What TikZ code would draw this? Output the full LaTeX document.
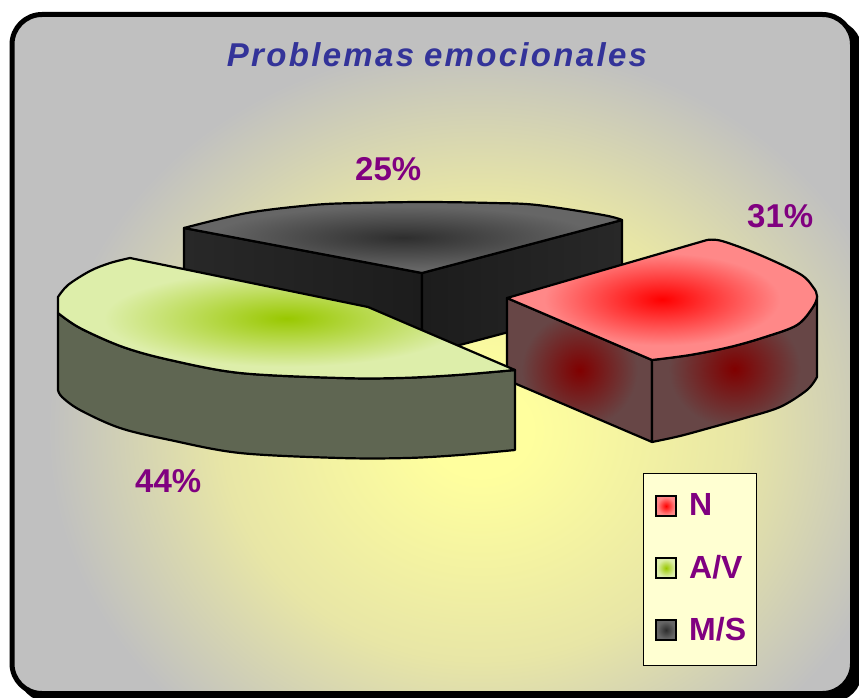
\documentclass[tikz,border=0pt]{standalone}
\usepackage{fontspec}
\setmainfont{Liberation Sans}
\newfontfamily\titlefont[LetterSpace=7]{Liberation Sans}
\definecolor{titleblue}{HTML}{333399}
\definecolor{pctpurple}{HTML}{800080}
\definecolor{bgyellow}{HTML}{FFFF9E}
\definecolor{bgmid}{HTML}{E8E6A6}
\definecolor{bggray}{HTML}{C0C0C0}
\definecolor{gtopin}{HTML}{99C800}
\definecolor{gtopout}{HTML}{DDEEAA}
\definecolor{gsideout}{HTML}{5F6652}
\definecolor{gsidein}{HTML}{4A5E1F}
\definecolor{rtopin}{HTML}{FF0000}
\definecolor{rtopout}{HTML}{FF8888}
\definecolor{rsidein}{HTML}{800000}
\definecolor{rsideout}{HTML}{674646}
\definecolor{dtopin}{HTML}{2E2E2E}
\definecolor{dtopout}{HTML}{666666}
\definecolor{dsidea}{HTML}{282828}
\definecolor{dsideb}{HTML}{1C1C1C}
\definecolor{legfill}{HTML}{FFFFD2}
\pgfdeclareradialshading{bgglow}{\pgfpoint{0bp}{0bp}}{color(0bp)=(bgyellow); color(2.7bp)=(bgyellow); color(13.7bp)=(bgmid); color(23bp)=(bggray); color(50bp)=(bggray)}
\pgfdeclareradialshading{greentop}{\pgfpoint{0bp}{0bp}}{color(0bp)=(gtopin); color(20bp)=(gtopout); color(50bp)=(gtopout)}
\pgfdeclareradialshading{redtop}{\pgfpoint{0bp}{0bp}}{color(0bp)=(rtopin); color(19bp)=(rtopout); color(50bp)=(rtopout)}
\pgfdeclareradialshading{redside}{\pgfpoint{0bp}{0bp}}{color(0bp)=(rsidein); color(20bp)=(rsideout); color(50bp)=(rsideout)}
\pgfdeclareradialshading{darktop}{\pgfpoint{0bp}{0bp}}{color(0bp)=(dtopin); color(22bp)=(dtopout); color(50bp)=(dtopout)}
\pgfdeclareradialshading{greenmark}{\pgfpoint{0bp}{0bp}}{color(0bp)=(gtopin); color(22bp)=(gtopout); color(50bp)=(gtopout)}
\pgfdeclareradialshading{redmark}{\pgfpoint{0bp}{0bp}}{color(0bp)=(rtopin); color(22bp)=(rtopout); color(50bp)=(rtopout)}
\pgfdeclareradialshading{darkmark}{\pgfpoint{0bp}{0bp}}{color(0bp)=(dtopin); color(22bp)=(dtopout); color(50bp)=(dtopout)}
\begin{document}
\begin{tikzpicture}[x=1pt,y=-1pt,
  face/.style={draw=black,line width=2.2pt,line join=round},
  pct/.style={text=pctpurple,font=\bfseries\fontsize{33}{38}\selectfont,anchor=base west,inner sep=0pt},
  legtext/.style={text=pctpurple,font=\bfseries\fontsize{32}{36}\selectfont,anchor=base west,inner sep=0pt},
  marker/.style={draw=black,line width=2.5pt,minimum width=20pt,minimum height=20pt,inner sep=0pt}]
\useasboundingbox (0,0) rectangle (859,698);
% frame and shadow
\fill[black,rounded corners=30pt] (18,20) rectangle (862,702);
\begin{scope}
  \clip[rounded corners=30pt] (12,14.5) rectangle (852.5,693.5);
  \fill[bggray] (0,0) rectangle (859,698);
  \fill[shading=bgglow] (10,10) rectangle (950,850);
\end{scope}
\draw[line width=5pt,rounded corners=30pt] (12,14.5) rectangle (852.5,693.5);
% title
\node[text=titleblue,inner sep=0pt,anchor=base] (title) at (437,67)
  {\titlefont\bfseries\itshape\fontsize{33}{38}\selectfont\spaceskip=0.3em\relax Problemas emocionales};
% dark slice (M/S)
\fill[face,left color=dsidea,right color=dsideb] (184,228) -- (422,273) -- (422,355) -- (184,310) -- cycle;
\fill[face,left color=dsideb,right color=dsidea] (422,273) -- (622,220) -- (622,302) -- (422,355) -- cycle;
\fill[face,shading=darktop] (422,273) -- (184,228) -- plot[smooth,tension=0.55] coordinates {(184,228) (247,213) (313,205) (357,203) (425,202) (493,203) (537,205) (603,215) (622,220)} -- cycle;
% red slice (N)
\fill[face,shading=redside] (507,298) -- (652,360) -- (652,442) -- (507,380) -- cycle;
\fill[face,shading=redside] plot[smooth,tension=0.55] coordinates {(652,360) (690,355) (730,347) (765,337) (797,325) (813,307) (817,296)} -- (817,377) -- plot[smooth,tension=0.55] coordinates {(817,377) (807,390) (780,407) (745,418) (713,427) (680,436) (652,442)} -- cycle;
\fill[face,shading=redtop] (507,298) -- (707,240) -- plot[smooth,tension=0.55] coordinates {(707,240) (722,241) (760,255) (800,274) (813,287) (817,296) (813,307) (797,325) (765,337) (730,347) (690,355) (652,360)} -- cycle;
% green slice (A/V)
\fill[face,left color=gsideout,middle color=gsidein,right color=gsideout] plot[smooth,tension=0.55] coordinates {(515,370) (457,375) (400,378) (340,378) (240,373) (170,360) (123,347) (80,328) (58,313)} -- (58,390) -- plot[smooth,tension=0.55] coordinates {(58,390) (62,397) (80,410) (120,428) (170,440) (240,453) (340,458) (407,458) (460,455) (515,450)} -- cycle;
\fill[face,shading=greentop] (130,258) -- (368,307) -- (515,370) -- plot[smooth,tension=0.55] coordinates {(515,370) (457,375) (400,378) (340,378) (240,373) (170,360) (123,347) (80,328) (58,313)} -- (58,297) -- plot[smooth,tension=0.55] coordinates {(58,297) (68,285) (90,271) (110,263) (130,258)} -- cycle;
% percentage labels
\node[pct] (pMS) at (355,180) {25\%};
\node[pct] (pN) at (747,227) {31\%};
\node[pct] (pAV) at (135,492) {44\%};
% legend
\node[draw=black,line width=0.8pt,fill=legfill,minimum width=113pt,minimum height=192pt,anchor=north west,inner sep=0pt] (legend) at (643,473) {};
\node[marker,shading=redmark] (mN) at (666,506) {};
\node[marker,shading=greenmark] (mAV) at (666,568) {};
\node[marker,shading=darkmark] (mMS) at (666,630) {};
\node[legtext] (tN) at (689,515) {N};
\node[legtext] (tAV) at (689,578) {A/V};
\node[legtext] (tMS) at (689,640) {M/S};
\end{tikzpicture}
\end{document}
